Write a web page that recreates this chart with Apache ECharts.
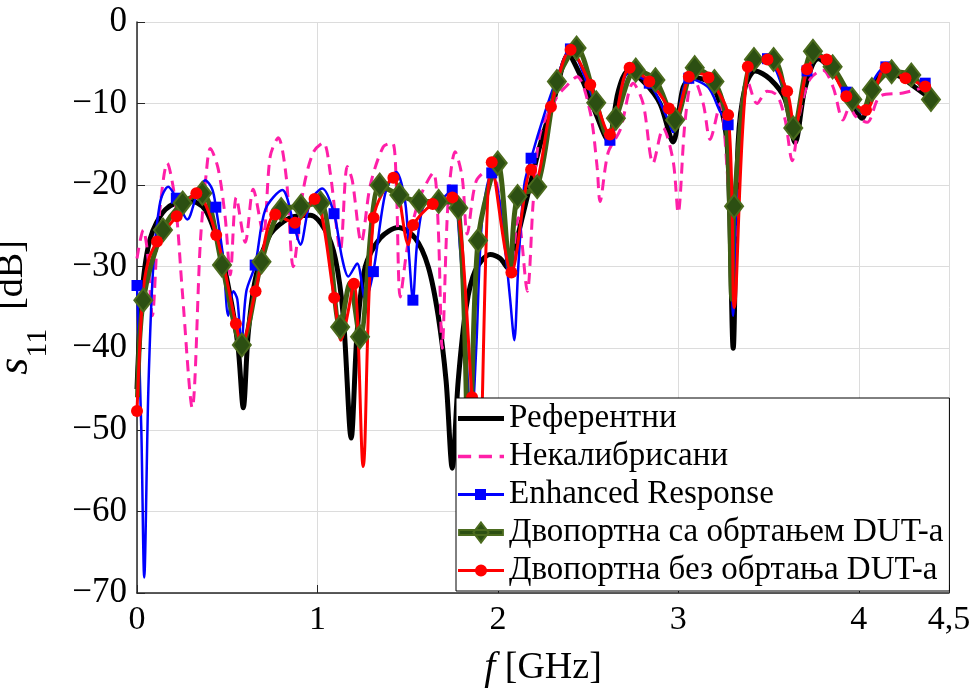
<!DOCTYPE html>
<html>
<head>
<meta charset="utf-8">
<script src="https://cdn.jsdelivr.net/npm/echarts@6/dist/echarts.min.js"></script>
<style>
  html, body { margin: 0; padding: 0; background: #fff; }
  #chart { width: 976px; height: 691px; }
</style>
</head>
<body>
<div id="chart"></div>
<script>
// s11 у dB, фреквенција у GHz
const seriesNames = [
  "Референтни",
  "Некалибрисани",
  "Enhanced Response",
  "Двопортна са обртањем DUT-а",
  "Двопортна без обртања DUT-а",
];

const xTicks = [0, 1, 2, 3, 4, 4.5];

const refCurve = [
  [0, -45], [0.029, -33], [0.074, -26.5], [0.157, -23], [0.279, -21.8], [0.378, -23],
  [0.462, -28], [0.528, -35], [0.561, -40], [0.589, -47.3], [0.617, -38], [0.661, -31],
  [0.739, -26], [0.849, -24], [0.96, -23.7], [1.043, -25.5], [1.099, -29], [1.143, -36],
  [1.187, -51], [1.22, -38], [1.265, -30], [1.348, -26.5], [1.448, -25.2], [1.542, -26.5],
  [1.614, -30], [1.669, -36], [1.713, -44], [1.747, -54.7], [1.78, -44], [1.824, -35],
  [1.874, -30.5], [1.957, -28.5], [2.013, -29], [2.057, -30.2], [2.096, -27.5], [2.151, -22.5],
  [2.235, -15], [2.317, -9], [2.39, -4], [2.456, -6.5], [2.539, -11], [2.611, -14.5],
  [2.667, -8.5], [2.722, -6], [2.816, -7.5], [2.899, -10], [2.971, -14.7], [3.027, -8],
  [3.082, -6.8], [3.176, -7.5], [3.243, -11], [3.276, -17], [3.304, -40], [3.331, -15],
  [3.37, -8], [3.426, -6], [3.509, -7], [3.592, -9.5], [3.647, -14.8], [3.703, -8],
  [3.775, -4.5], [3.869, -6.5], [3.952, -9.5], [4.018, -11.8], [4.074, -8], [4.146, -6],
  [4.229, -6.7], [4.312, -8], [4.395, -9.3],
];

const uncalCurve = [
  [0, -29], [0.035, -25.5], [0.057, -28], [0.085, -36], [0.118, -25], [0.168, -17.3],
  [0.212, -22], [0.251, -33], [0.306, -47.3], [0.351, -27], [0.384, -18.5], [0.406, -15.5],
  [0.45, -18], [0.489, -24], [0.517, -31], [0.55, -21.5], [0.6, -27], [0.644, -20.5],
  [0.7, -26], [0.738, -16.5], [0.783, -14.2], [0.827, -19], [0.866, -30], [0.922, -20.5],
  [0.977, -16], [1.033, -14.8], [1.071, -18.5], [1.127, -28], [1.165, -17.7], [1.193, -19.4],
  [1.243, -27], [1.293, -20], [1.365, -15.3], [1.415, -14.8], [1.437, -20], [1.459, -33.7],
  [1.503, -27], [1.57, -21.4], [1.642, -18.5], [1.669, -25], [1.691, -40], [1.724, -22],
  [1.763, -15.9], [1.802, -19], [1.83, -26], [1.88, -19.5], [1.957, -18], [2.013, -22],
  [2.068, -31], [2.113, -24], [2.163, -33], [2.196, -22], [2.235, -13.6], [2.329, -9.1],
  [2.373, -8], [2.439, -6.7], [2.511, -11], [2.55, -17.8], [2.566, -22], [2.611, -16],
  [2.678, -13.2], [2.75, -7.5], [2.805, -10], [2.86, -17.3], [2.916, -13], [2.971, -17],
  [2.999, -23.4], [3.038, -12], [3.082, -6.7], [3.138, -10], [3.176, -14.4], [3.232, -10],
  [3.27, -18], [3.304, -30], [3.343, -12], [3.381, -7.1], [3.436, -10], [3.492, -8.5],
  [3.548, -9], [3.592, -12], [3.631, -17], [3.675, -11], [3.73, -7], [3.802, -5.9],
  [3.858, -8], [3.913, -12], [3.95, -10.4], [3.98, -11.5], [4.046, -12.3], [4.118, -9.1],
  [4.245, -8.7], [4.378, -7.9],
];

const enhCurve = [
  [0.024, -50], [0.04, -68.1], [0.063, -45], [0.09, -30], [0.129, -22], [0.173, -20.2],
  [0.279, -24.2], [0.334, -21], [0.378, -19.4], [0.417, -20.5], [0.478, -29], [0.506, -36],
  [0.534, -33], [0.556, -34], [0.578, -39.5], [0.606, -33], [0.711, -23], [0.805, -20.6],
  [0.905, -27.3], [0.96, -22], [1.027, -20.4], [1.137, -29], [1.171, -31.2], [1.22, -29.6],
  [1.265, -34], [1.376, -21], [1.437, -18.4], [1.486, -22], [1.509, -29], [1.553, -27],
  [1.597, -22.2], [1.669, -22], [1.791, -28], [1.824, -40], [1.852, -50], [1.88, -40],
  [1.913, -24], [2.002, -21], [2.041, -28], [2.068, -34], [2.091, -39], [2.113, -30],
  [2.146, -20], [2.262, -11], [2.317, -7.5], [2.511, -8.5], [2.722, -6.3], [2.943, -12],
  [2.971, -13.5], [3.165, -8], [3.232, -11], [3.304, -36], [3.331, -16], [3.386, -6.5],
  [3.592, -9], [3.642, -13.2], [3.775, -4.3], [3.869, -6], [4.018, -11.2], [4.074, -7.5],
  [4.257, -6.7], [4.395, -8],
];
const enhMarks = [
  [0, -32.3], [0.218, -21.6], [0.437, -22.7], [0.655, -29.8], [0.874, -25.3], [1.092, -23.5],
  [1.31, -30.6], [1.529, -34.1], [1.747, -20.6], [1.966, -18.5], [2.184, -16.7], [2.402, -3.3],
  [2.621, -14.5], [2.839, -7.5], [3.058, -6.9], [3.276, -12.6], [3.494, -4.5], [3.713, -6],
  [3.931, -8.6], [4.15, -5.5], [4.368, -7.5],
];

const revCurve = [
  [0.003, -46], [1.18, -32], [1.84, -55], [2.068, -30.5], [2.61, -14], [3.265, -12],
  [3.297, -34], [4.02, -11],
];
const revMarks = [
  [0.035, -34.1], [0.144, -25.5], [0.253, -22.2], [0.362, -21], [0.471, -29.8], [0.581, -39.6],
  [0.69, -29.4], [0.799, -23], [0.908, -22.6], [1.017, -22.2], [1.126, -37.4], [1.236, -38.6],
  [1.345, -20], [1.454, -21.2], [1.563, -22], [1.672, -22], [1.781, -22.8], [1.89, -26.8],
  [1.999, -17.3], [2.109, -21.4], [2.218, -20.2], [2.327, -7.3], [2.436, -3.2], [2.545, -9.9],
  [2.654, -11.8], [2.764, -5.9], [2.873, -7.1], [2.982, -12], [3.091, -5.6], [3.2, -7.3],
  [3.309, -22.6], [3.419, -4.6], [3.528, -4.6], [3.637, -13], [3.746, -3.6], [3.855, -5.5],
  [3.964, -9.5], [4.073, -8.3], [4.182, -6.1], [4.291, -6.5], [4.4, -9.5],
];

const noRevCurve = [
  [0.03, -34], [0.06, -29.5], [0.58, -39.5], [1.13, -39], [1.253, -54.5], [1.504, -27.3],
  [1.89, -60], [2.21, -19.3], [2.975, -12.5], [3.11, -6.3], [3.31, -35], [3.645, -13.2],
  [3.78, -4.2], [4.405, -9.6],
];
const noRevMarks = [
  [0, -47.7], [0.111, -26.9], [0.22, -23.8], [0.329, -21], [0.439, -26.1], [0.548, -37],
  [0.657, -33], [0.766, -23.6], [0.875, -24.6], [0.984, -21.7], [1.093, -33.8], [1.202, -32.1],
  [1.311, -24], [1.421, -19.1], [1.53, -24.9], [1.639, -22.3], [1.748, -21.5], [1.857, -46],
  [1.966, -17.2], [2.075, -30.7], [2.184, -18.1], [2.294, -10.4], [2.403, -3.4], [2.512, -7.7],
  [2.621, -13.8], [2.73, -5.6], [2.839, -7.3], [2.948, -10.6], [3.058, -6.7], [3.167, -6.8],
  [3.276, -11.4], [3.385, -5.5], [3.494, -4.6], [3.603, -8.5], [3.713, -5.8], [3.822, -4.6],
  [3.931, -9.1], [4.04, -10.8], [4.149, -5.6], [4.259, -6.9], [4.368, -7.9],
];

// маркери су тачке криве, остале тачке без симбола
function withMarks(curve, marks) {
  const pts = curve
    .map((p) => ({ value: p, symbol: "none" }))
    .concat(marks.map((p) => ({ value: p })));
  pts.sort((a, b) => a.value[0] - b.value[0]);
  return pts;
}

// иконе легенде: линија + маркер
const legendIcons = [
  "path://M0,0h46v5h-46z",
  "path://M0,0h12v3h-12z M19,0h12v3h-12z M38,0h4v3h-4z",
  "path://M0,7h46v3h-46z M17,3h11v11h-11z",
  "path://M0,8h46v5h-46z M23,0L31,10.5L23,21L15,10.5Z",
  "path://M0,8.5h46v3h-46z M29,10a6,6 0 1,1 -12,0a6,6 0 1,1 12,0z",
];

const serif = "Liberation Serif";
const axisColor = "#262626";

const chart = echarts.init(document.getElementById("chart"));

chart.setOption({
  animation: false,
  backgroundColor: "#fff",
  grid: { left: 137, top: 22, right: 27, bottom: 98, outerBoundsMode: "none" },
  legend: {
    orient: "vertical",
    left: 456,
    top: 398,
    backgroundColor: "#fff",
    borderColor: "#000",
    borderWidth: 1,
    borderRadius: 0,
    padding: [4, 6, 4, 2],
    itemWidth: 46,
    itemHeight: 20,
    itemGap: 5,
    symbolKeepAspect: true,
    textStyle: { fontFamily: serif, fontSize: 33, color: "#000" },
    data: seriesNames.map((name, i) => ({ name, icon: legendIcons[i] })),
  },
  xAxis: {
    type: "value",
    min: 0,
    max: 4.5,
    interval: 1,
    axisLine: { onZero: false, lineStyle: { color: axisColor, width: 1.5 } },
    axisTick: { inside: true, length: 8, lineStyle: { color: axisColor } },
    axisLabel: {
      fontFamily: serif,
      fontSize: 34,
      color: "#000",
      margin: 10,
      formatter: (v) => String(v).replace(".", ","),
    },
    splitLine: { show: true, lineStyle: { color: "#dcdcdc" } },
    name: "{it|f}{n| [GHz]}",
    nameLocation: "middle",
    nameGap: 55,
    nameTextStyle: {
      rich: {
        it: { fontFamily: serif, fontSize: 40, fontStyle: "italic", color: "#000" },
        n: { fontFamily: serif, fontSize: 38, color: "#000" },
      },
    },
  },
  yAxis: {
    type: "value",
    min: -70,
    max: 0,
    interval: 10,
    axisLine: { show: true, lineStyle: { color: axisColor, width: 1.5 } },
    axisTick: { show: true, inside: true, length: 8, lineStyle: { color: axisColor } },
    axisLabel: {
      fontFamily: serif,
      fontSize: 35,
      color: "#000",
      margin: 10,
      formatter: (v) => (v < 0 ? "\u2212" + Math.abs(v) : String(v)),
    },
    splitLine: { show: true, lineStyle: { color: "#dcdcdc" } },
    name: "{s|s}{sub|11}{n|  [dB]}",
    nameLocation: "middle",
    nameRotate: 90,
    nameGap: 84,
    nameTextStyle: {
      rich: {
        s: { fontFamily: serif, fontSize: 44, fontStyle: "italic", color: "#000", verticalAlign: "top", lineHeight: 44 },
        sub: { fontFamily: serif, fontSize: 30, color: "#000", verticalAlign: "bottom", lineHeight: 60 },
        n: { fontFamily: serif, fontSize: 38, color: "#000", verticalAlign: "top", lineHeight: 44 },
      },
    },
  },
  series: [
    {
      name: seriesNames[0],
      type: "line",
      data: refCurve,
      smooth: 0.3,
      symbol: "none",
      lineStyle: { color: "#000", width: 5 },
      itemStyle: { color: "#000" },
    },
    {
      name: seriesNames[1],
      type: "line",
      data: uncalCurve,
      smooth: 0.3,
      symbol: "none",
      lineStyle: { color: "#ff1fa8", width: 3, type: [11, 7] },
      itemStyle: { color: "#ff1fa8" },
    },
    {
      name: seriesNames[2],
      type: "line",
      data: withMarks(enhCurve, enhMarks),
      smooth: 0.3,
      symbol: "rect",
      symbolSize: 11,
      showAllSymbol: true,
      lineStyle: { color: "#0000ff", width: 2.5 },
      itemStyle: { color: "#0000ff" },
    },
    {
      name: seriesNames[3],
      type: "line",
      data: withMarks(revCurve, revMarks),
      smooth: 0.3,
      symbol: "diamond",
      symbolSize: [18, 23],
      showAllSymbol: true,
      lineStyle: { color: "#3f5f14", width: 5 },
      itemStyle: { color: "#2c4f12", borderColor: "#4b6b1e", borderWidth: 2 },
    },
    {
      name: seriesNames[4],
      type: "line",
      data: withMarks(noRevCurve, noRevMarks),
      smooth: 0.3,
      symbol: "circle",
      symbolSize: 12,
      showAllSymbol: true,
      lineStyle: { color: "#ff0000", width: 3 },
      itemStyle: { color: "#ff0000" },
    },
  ],
});
</script>
</body>
</html>
